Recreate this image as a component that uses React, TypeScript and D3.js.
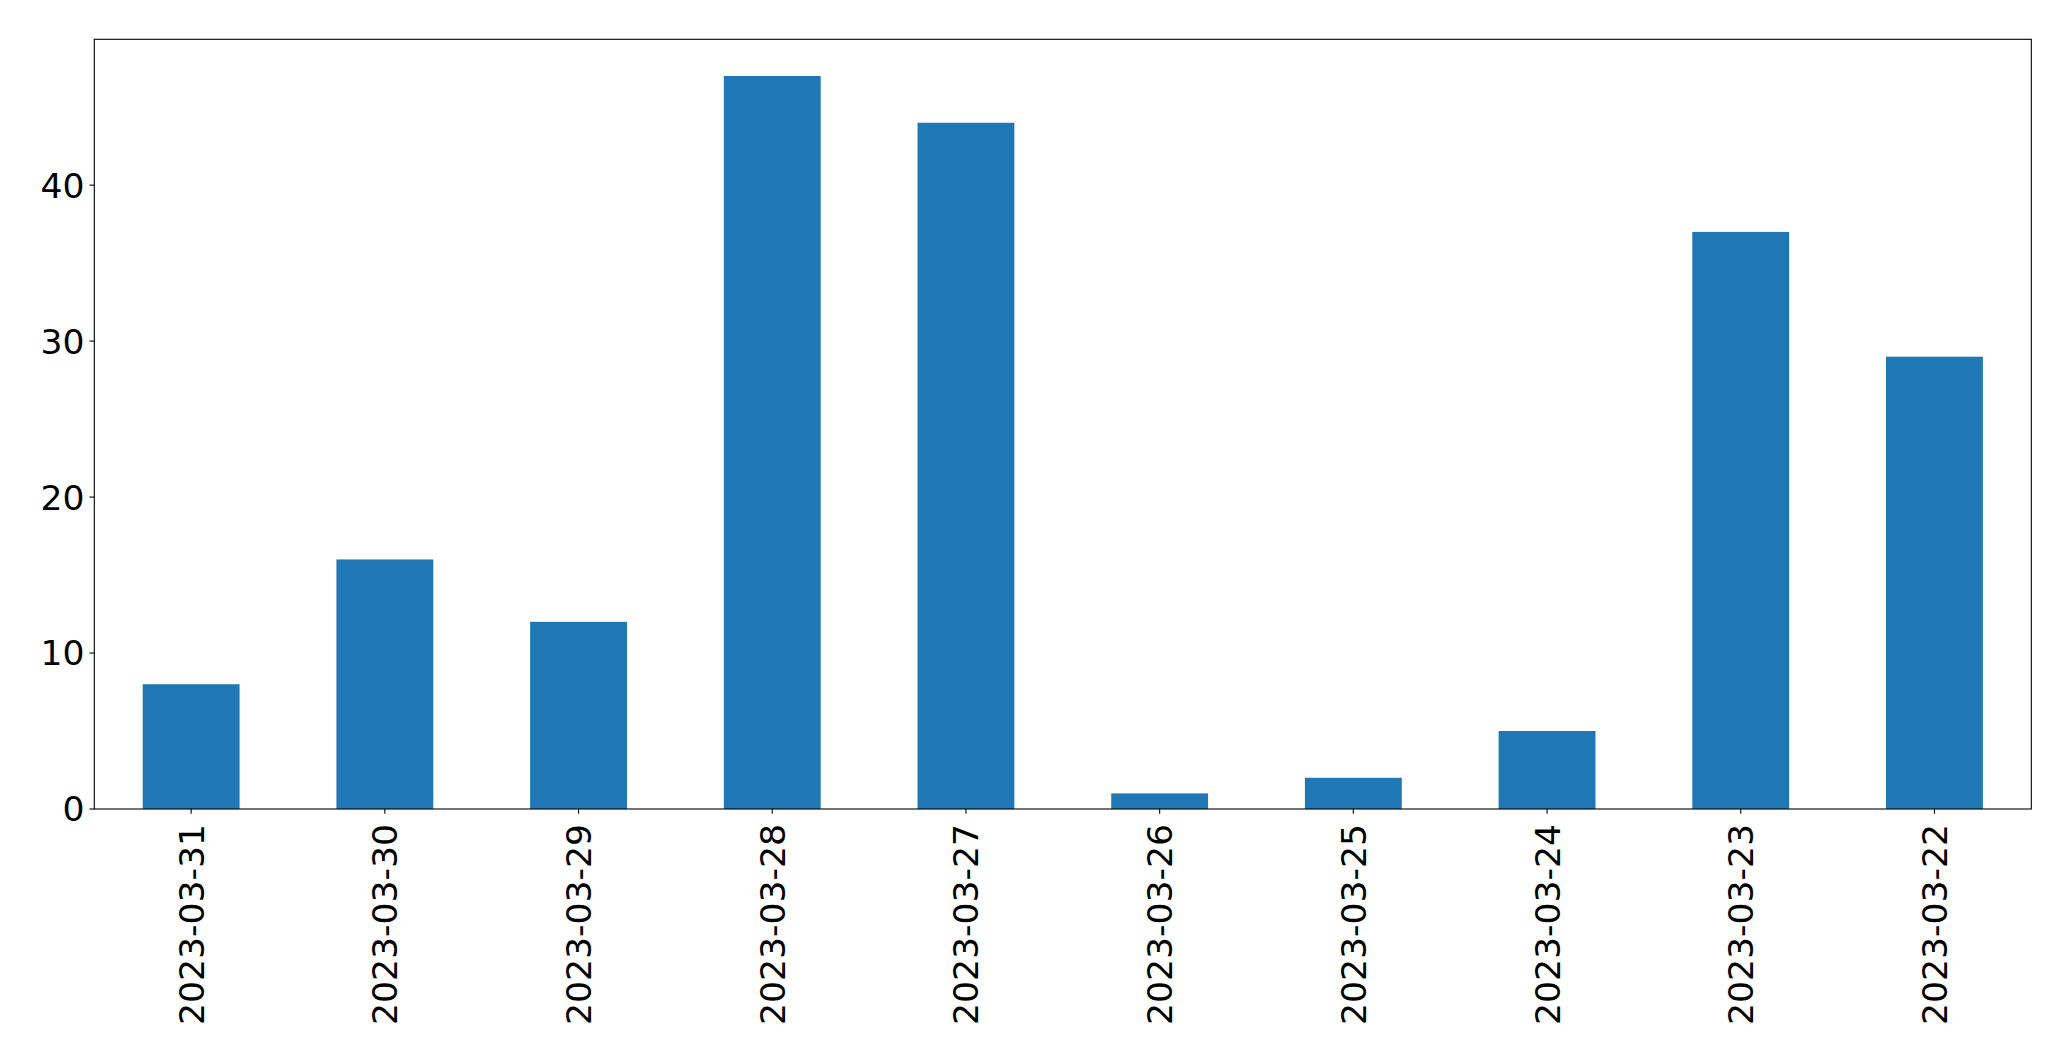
import React from "react";
import * as d3 from "d3";

const categories = [
  "2023-03-31",
  "2023-03-30",
  "2023-03-29",
  "2023-03-28",
  "2023-03-27",
  "2023-03-26",
  "2023-03-25",
  "2023-03-24",
  "2023-03-23",
  "2023-03-22",
];
const values = [8, 16, 12, 47, 44, 1, 2, 5, 37, 29];
const yTicks = [0, 10, 20, 30, 40];

const W = 2071;
const H = 1061;
const M = { left: 94.3, top: 39.3, right: 2031.3, bottom: 809 };
const FONT = "DejaVu Sans, sans-serif";

export default function App() {
  const x = d3
    .scaleBand<string>()
    .domain(categories)
    .range([M.left, M.right])
    .paddingInner(0.5)
    .paddingOuter(0.25);
  const maxV = d3.max(values) as number;
  const y = d3.scaleLinear().domain([0, maxV * 1.05]).range([M.bottom, M.top]);
  const tickLen = 4.86;
  const fs = 34.6;

  return (
    <svg
      width={W}
      height={H}
      style={{ position: "absolute", left: 0, top: 0, background: "#fff" }}
      fontFamily={FONT}
    >
      <rect x={0} y={0} width={W} height={H} fill="#fff" />
      {categories.map((c, i) => (
        <rect
          key={c}
          x={x(c)}
          y={y(values[i])}
          width={x.bandwidth()}
          height={y(0) - y(values[i])}
          fill="#1f77b4"
        />
      ))}
      <rect
        x={M.left}
        y={M.top}
        width={M.right - M.left}
        height={M.bottom - M.top}
        fill="none"
        stroke="#000"
        strokeWidth={1.1}
      />
      {yTicks.map((t) => (
        <g key={t}>
          <line
            x1={M.left - tickLen}
            x2={M.left}
            y1={y(t)}
            y2={y(t)}
            stroke="#000"
            strokeWidth={1.1}
          />
          <text
            x={M.left - tickLen - 4.9}
            y={y(t)}
            dy="0.36em"
            textAnchor="end"
            fontSize={fs}
            fill="#000"
          >
            {t}
          </text>
        </g>
      ))}
      {categories.map((c) => {
        const cx = (x(c) as number) + x.bandwidth() / 2;
        const ty = M.bottom + 15;
        return (
          <g key={c}>
            <line
              x1={cx}
              x2={cx}
              y1={M.bottom}
              y2={M.bottom + tickLen}
              stroke="#000"
              strokeWidth={1.1}
            />
            <text
              transform={`translate(${cx},${ty}) rotate(-90)`}
              dy="0.36em"
              textAnchor="end"
              fontSize={fs}
              fill="#000"
            >
              {c}
            </text>
          </g>
        );
      })}
    </svg>
  );
}
